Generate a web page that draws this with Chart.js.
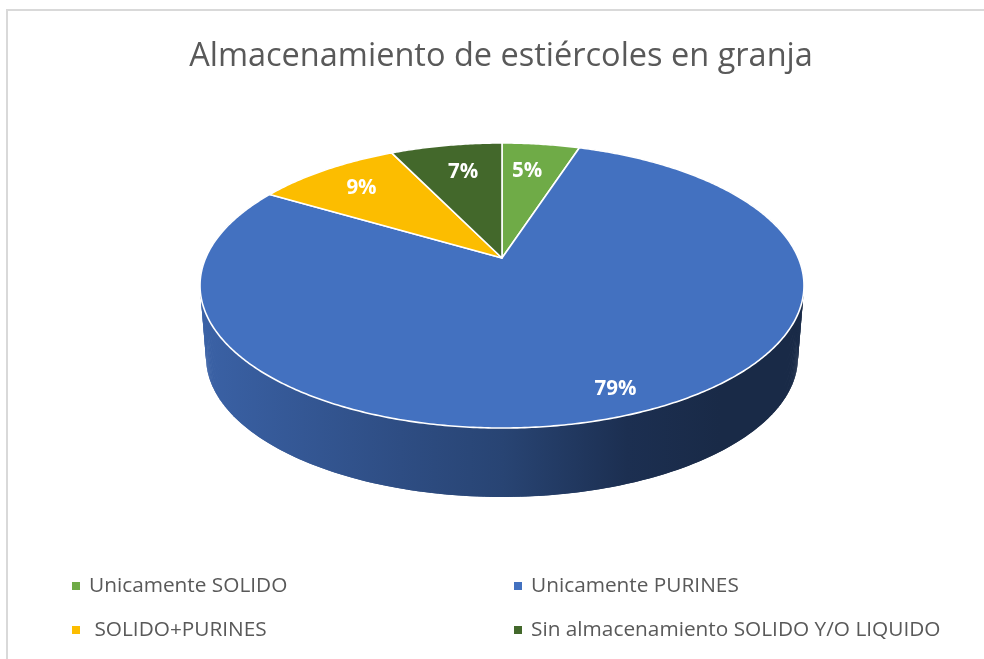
<!DOCTYPE html>
<html>
<head>
<meta charset="utf-8">
<style>
html,body{margin:0;padding:0;background:#fff;overflow:hidden;width:984px;height:659px}
#frame{position:absolute;left:6px;top:9px;width:1000px;height:700px;border:2px solid #d9d9d9;box-sizing:border-box}
#c{position:absolute;left:0;top:0}
</style>
</head>
<body>
<div id="frame"></div>
<canvas id="c" width="984" height="659"></canvas>
<script src="https://cdn.jsdelivr.net/npm/chart.js@4/dist/chart.umd.js"></script>
<script>
const titleText = "Almacenamiento de estiércoles en granja";
const categories = ["Unicamente SOLIDO", "Unicamente PURINES", " SOLIDO+PURINES", "Sin almacenamiento SOLIDO Y/O LIQUIDO"];
const values = [5, 78.5, 9.3, 7.2];
const colors = ["#6FAB47", "#4371C0", "#FCBD00", "#43682B"];

// Perspective geometry of the tilted disc
const APEX_X = 502, APEX_Y = 258, TILT = 0.193, SCALE_X = 296.3, SCALE_Y = 137.2;
const RIM_CY = 285.5, DEPTH_SCALE = 0.98, DEPTH_DY = 71.8;
const LABEL_RADIUS = [0.74, 0.864, 0.777, 0.74];
const LABEL_TURN_DEG = [-1.5, -1.3, 0, 1.3];
const FONT = '"Open Sans", sans-serif';

function project(t, r) {
  const u = Math.sin(t) * r, v = Math.cos(t) * r, w = 1 + TILT * v;
  return [APEX_X + SCALE_X * u / w, APEX_Y - SCALE_Y * v / w];
}
function projectBottom(t) {
  const p = project(t, 1);
  return [APEX_X + DEPTH_SCALE * (p[0] - APEX_X), RIM_CY + DEPTH_DY + DEPTH_SCALE * (p[1] - RIM_CY)];
}
function shade(hex, k) {
  const n = parseInt(hex.slice(1), 16);
  return `rgb(${Math.round((n >> 16 & 255) * k)},${Math.round((n >> 8 & 255) * k)},${Math.round((n & 255) * k)})`;
}

const pie3d = {
  id: "pie3d",
  beforeDatasetDraw() { return false; },
  afterDatasetsDraw(chart) {
    const ctx = chart.ctx, arcs = chart.getDatasetMeta(0).data;
    const sweep = (a) => {
      const s = a.startAngle + Math.PI / 2, e = a.endAngle + Math.PI / 2, n = Math.ceil((e - s) / 0.01), out = [];
      for (let i = 0; i <= n; i++) out.push(s + (e - s) * i / n);
      return out;
    };
    ctx.save();
    // side wall: one quad per small step so the silhouette joins top and bottom rims
    arcs.forEach((a, i) => {
      const ts = sweep(a), g = ctx.createLinearGradient(205, 0, 720, 0), c = colors[i];
      g.addColorStop(0, shade(c, 0.86));
      g.addColorStop(0.38, shade(c, 0.68));
      g.addColorStop(0.58, shade(c, 0.6));
      g.addColorStop(0.82, shade(c, 0.42));
      g.addColorStop(1, shade(c, 0.37));
      ctx.fillStyle = g;
      for (let k = 0; k + 2 < ts.length; k++) {
        const p1 = project(ts[k], 1), p2 = project(ts[k + 2], 1), p3 = projectBottom(ts[k + 2]), p4 = projectBottom(ts[k]);
        ctx.beginPath();
        ctx.moveTo(p1[0], p1[1]);
        ctx.lineTo(p2[0], p2[1]);
        ctx.lineTo(p3[0], p3[1]);
        ctx.lineTo(p4[0], p4[1]);
        ctx.closePath();
        ctx.fill();
      }
    });
    // top faces
    arcs.forEach((a, i) => {
      ctx.beginPath();
      ctx.moveTo(APEX_X, APEX_Y);
      sweep(a).forEach(t => { const p = project(t, 1); ctx.lineTo(p[0], p[1]); });
      ctx.closePath();
      ctx.fillStyle = colors[i];
      ctx.fill();
      ctx.lineWidth = 1.6;
      ctx.lineJoin = "round";
      ctx.strokeStyle = "#ffffff";
      ctx.stroke();
    });
    // data labels
    ctx.fillStyle = "#ffffff";
    ctx.font = "bold 20.5px " + FONT;
    ctx.textAlign = "center";
    ctx.textBaseline = "middle";
    arcs.forEach((a, i) => {
      const mid = (a.startAngle + a.endAngle) / 2 + Math.PI / 2 + LABEL_TURN_DEG[i] * Math.PI / 180;
      const p = project(mid, LABEL_RADIUS[i]);
      ctx.fillText(Math.round(values[i]) + "%", p[0], p[1] + 1);
    });
    // legend
    const col = [72, 514], row = [586, 630];
    ctx.font = "20.8px " + FONT;
    ctx.textAlign = "left";
    categories.forEach((name, i) => {
      const x = col[i % 2], y = row[i >> 1];
      ctx.fillStyle = colors[i];
      ctx.fillRect(x, y - 4, 8, 8);
      ctx.fillStyle = "#595959";
      ctx.fillText(name, x + 17, y);
    });
    ctx.restore();
  }
};

new Chart(document.getElementById("c"), {
  type: "pie",
  data: { labels: categories, datasets: [{ data: values, backgroundColor: colors }] },
  options: {
    responsive: false,
    animation: false,
    layout: { padding: { left: 18 } },
    plugins: {
      legend: { display: false },
      tooltip: { enabled: false },
      title: {
        display: true,
        text: titleText,
        color: "#595959",
        font: { family: FONT, size: 32.5, weight: "normal" },
        padding: { top: 37, bottom: 10 }
      }
    }
  },
  plugins: [pie3d]
});
</script>
</body>
</html>
